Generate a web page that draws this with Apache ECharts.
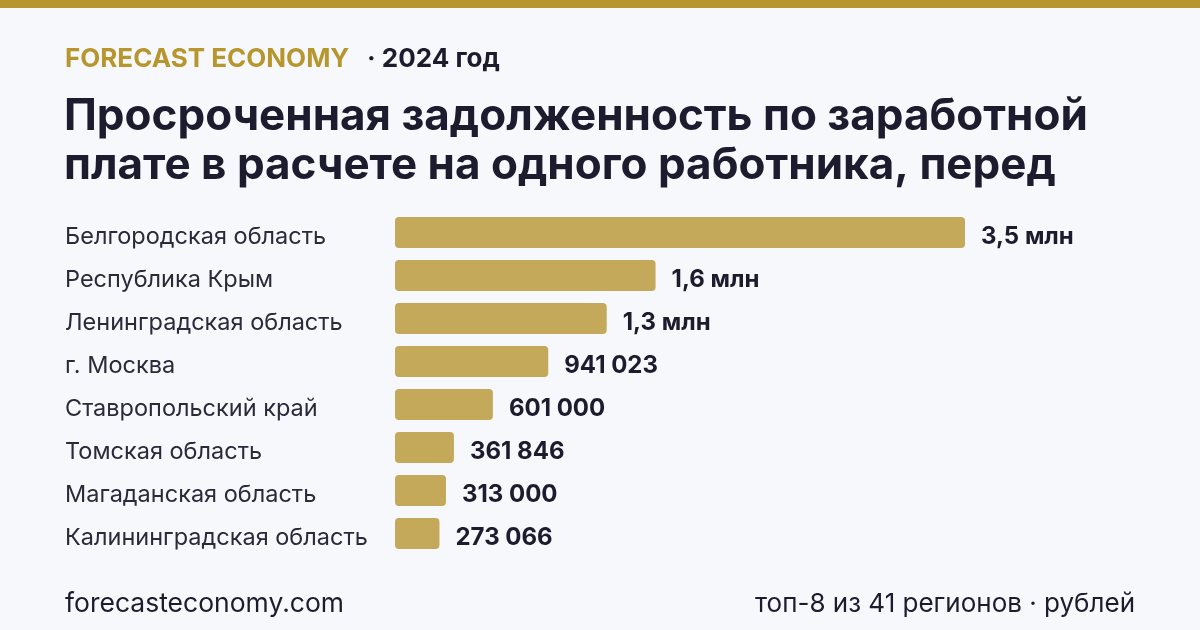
<!DOCTYPE html>
<html>
<head>
<meta charset="utf-8">
<script src="https://cdn.jsdelivr.net/npm/echarts@6/dist/echarts.min.js"></script>
<style>
  html, body { margin: 0; padding: 0; background: #f7f8fc; }
  #chart { width: 1200px; height: 630px; }
</style>
</head>
<body>
<div id="chart"></div>
<script>
// регионы и значения (рублей)
var regions = [
  'Белгородская область',
  'Республика Крым',
  'Ленинградская область',
  'г. Москва',
  'Ставропольский край',
  'Томская область',
  'Магаданская область',
  'Калининградская область'
];
var values = [3500000, 1600000, 1300000, 941023, 601000, 361846, 313000, 273066];

var gold = '#b8962e';
var barColor = '#c4a95a';
var ink = '#1c1c2e';
var font = 'Inter, "Noto Sans", sans-serif';

function fmtValue(v) {
  if (v >= 1000000) {
    return (Math.round(v / 100000) / 10).toString().replace('.', ',') + ' млн';
  }
  return String(v).replace(/\B(?=(\d{3})+(?!\d))/g, ' ');
}

var chart = echarts.init(document.getElementById('chart'));

var option = {
  backgroundColor: '#f7f8fc',
  animation: false,
  grid: { left: 395, right: 235, top: 211, height: 344 },
  xAxis: {
    type: 'value',
    min: 0,
    max: 3500000,
    show: false
  },
  yAxis: {
    type: 'category',
    inverse: true,
    data: regions,
    axisLine: { show: false },
    axisTick: { show: false },
    axisLabel: {
      align: 'left',
      margin: 330,
      formatter: function (v) { return '{n|' + v + '}'; },
      rich: {
        n: {
          color: '#2a2a3a',
          fontSize: 23.5,
          fontFamily: font,
          padding: [9, 0, 0, 0]
        }
      }
    }
  },
  series: [
    {
      type: 'bar',
      data: values,
      barWidth: 31,
      itemStyle: { color: barColor, borderRadius: 4 },
      label: {
        show: true,
        position: 'right',
        distance: 16,
        offset: [0, 4],
        color: ink,
        fontSize: 24,
        fontWeight: 'bold',
        fontFamily: font,
        formatter: function (p) { return fmtValue(p.value); }
      }
    }
  ],
  graphic: [
    { type: 'rect', left: 0, top: 0, shape: { width: 1200, height: 8 }, style: { fill: gold } },
    {
      type: 'text', left: 65, top: 46,
      style: { text: 'FORECAST ECONOMY', fill: gold, font: 'bold 26px ' + font }
    },
    {
      type: 'text', left: 367, top: 46,
      style: { text: '· 2024 год', fill: ink, font: 'bold 26px ' + font }
    },
    {
      type: 'text', left: 64, top: 92,
      style: {
        text: 'Просроченная задолженность по заработной\nплате в расчете на одного работника, перед',
        fill: ink,
        font: 'bold 44px ' + font,
        lineHeight: 49
      }
    },
    {
      type: 'text', left: 65, top: 591,
      style: { text: 'forecasteconomy.com', fill: ink, font: '26.5px ' + font }
    },
    {
      type: 'text', right: 65, top: 591,
      style: { text: 'топ-8 из 41 регионов · рублей', fill: ink, font: '26px ' + font }
    }
  ]
};

chart.setOption(option);
</script>
</body>
</html>
